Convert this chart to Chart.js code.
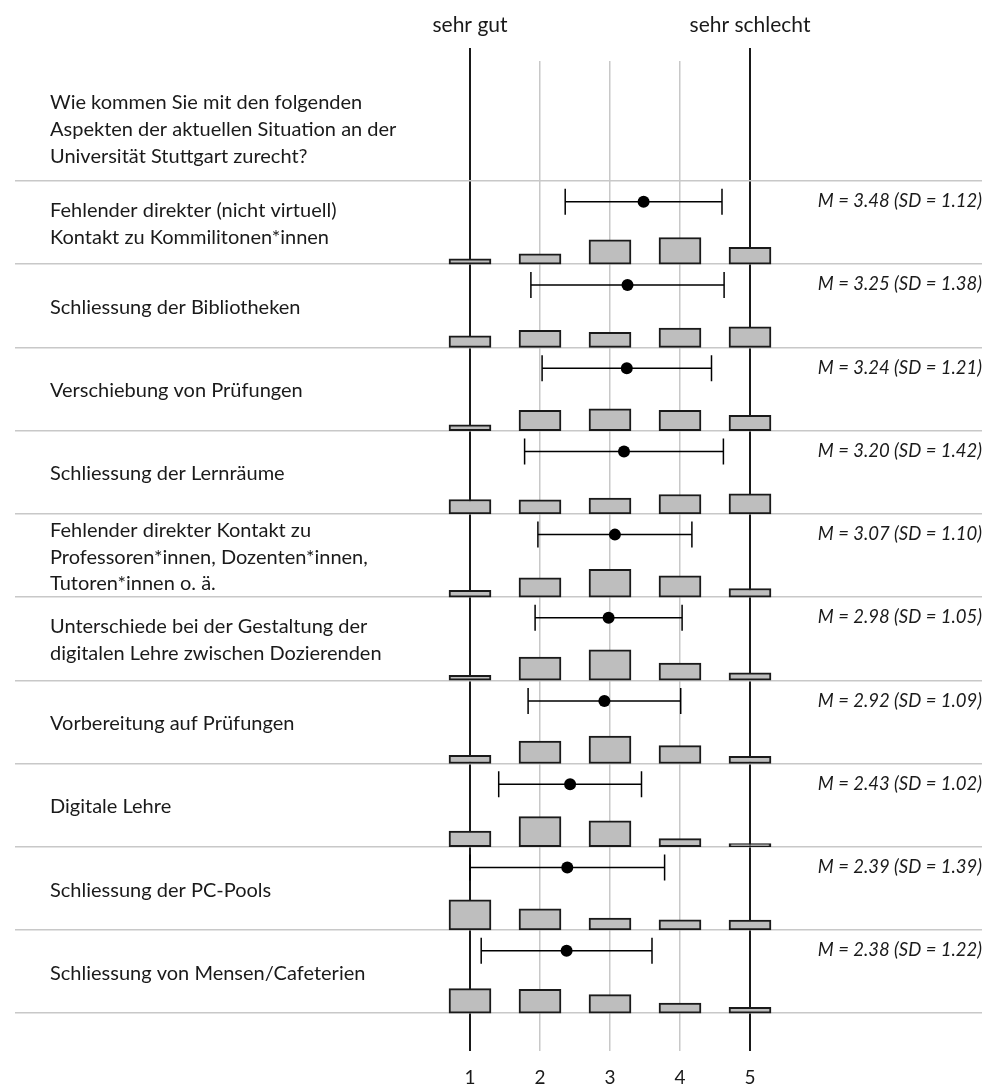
<!DOCTYPE html>
<html>
<head>
<meta charset="utf-8">
<script src="https://cdn.jsdelivr.net/npm/chart.js@4/dist/chart.umd.min.js"></script>
<style>
  html, body { margin: 0; padding: 0; background: #fff; }
  canvas { display: block; }
</style>
</head>
<body>
<canvas id="chart" width="997" height="1085"></canvas>
<script>
// Survey question and item wording
const question = [
  'Wie kommen Sie mit den folgenden',
  'Aspekten der aktuellen Situation an der',
  'Universität Stuttgart zurecht?'
];
const items = [
  ['Fehlender direkter (nicht virtuell)', 'Kontakt zu Kommilitonen*innen'],
  ['Schliessung der Bibliotheken'],
  ['Verschiebung von Prüfungen'],
  ['Schliessung der Lernräume'],
  ['Fehlender direkter Kontakt zu', 'Professoren*innen, Dozenten*innen,', 'Tutoren*innen o. ä.'],
  ['Unterschiede bei der Gestaltung der', 'digitalen Lehre zwischen Dozierenden'],
  ['Vorbereitung auf Prüfungen'],
  ['Digitale Lehre'],
  ['Schliessung der PC-Pools'],
  ['Schliessung von Mensen/Cafeterien']
];

// Response scale
const responseValues = [1, 2, 3, 4, 5];
const scaleEnds = ['sehr gut', 'sehr schlecht'];

// Share of answers (%) per response value, one row per item
const shares = [
  [6.3, 12.2, 29.3, 32.0, 20.2],
  [13.8, 20.4, 18.0, 23.2, 24.6],
  [6.8, 24.4, 26.0, 24.4, 18.4],
  [17.2, 16.8, 18.8, 23.2, 24.0],
  [8.0, 23.0, 33.3, 25.4, 10.3],
  [6.0, 27.8, 36.7, 20.6, 8.9],
  [9.8, 27.1, 33.0, 21.6, 8.5],
  [18.9, 36.3, 31.1, 9.8, 3.9],
  [36.3, 25.3, 14.3, 12.2, 11.9],
  [29.5, 28.7, 22.3, 12.3, 7.2]
];

// Mean and standard deviation per item
const means = [3.48, 3.25, 3.24, 3.20, 3.07, 2.98, 2.92, 2.43, 2.39, 2.38];
const sds   = [1.12, 1.38, 1.21, 1.42, 1.10, 1.05, 1.09, 1.02, 1.39, 1.22];

const FONT = 'Lato, "Open Sans", sans-serif';
const INK = '#1a1a1a';

// Each item occupies one unit on the y axis; bars grow upward from the row's lower edge
const histBars = [];
shares.forEach((row, i) => {
  row.forEach((p, k) => {
    histBars.push({ x: responseValues[k], y: [i + 1 - p / 100, i + 1] });
  });
});

// Mean ± SD whiskers, rows separated by gaps
const whiskers = [];
means.forEach((m, i) => {
  const yv = i + 0.25;
  whiskers.push({ x: m - sds[i], y: yv }, { x: m + sds[i], y: yv }, { x: m, y: null });
});
const meanPoints = means.map((m, i) => ({ x: m, y: i + 0.25 }));

const itemText = {
  id: 'itemText',
  afterDatasetsDraw(chart) {
    const { ctx, chartArea, scales: { y } } = chart;
    const lh = 26.8;
    const x0 = chartArea.left + 35;
    ctx.save();
    ctx.fillStyle = INK;
    ctx.textBaseline = 'middle';
    ctx.textAlign = 'left';
    ctx.font = `20px ${FONT}`;
    const block = (lines, cy) => lines.forEach((t, j) =>
      ctx.fillText(t, x0, cy + (j - (lines.length - 1) / 2) * lh));
    block(question, y.getPixelForValue(-0.62));
    items.forEach((lines, i) => block(lines, y.getPixelForValue(i + 0.52)));
    ctx.textAlign = 'right';
    ctx.font = `italic 18.5px ${FONT}`;
    means.forEach((m, i) => ctx.fillText(
      `M = ${m.toFixed(2)} (SD = ${sds[i].toFixed(2)})`,
      chartArea.right, y.getPixelForValue(i + 0.245)));
    ctx.restore();
  }
};

const xRange = { min: -5.5, max: 8.3143 };

function draw() {
  new Chart(document.getElementById('chart'), {
    type: 'bar',
    data: {
      datasets: [
        {
          type: 'line',
          data: meanPoints,
          showLine: false,
          pointRadius: 6,
          pointBackgroundColor: '#000',
          pointBorderWidth: 0,
          order: 1
        },
        {
          type: 'line',
          data: whiskers,
          borderColor: '#000',
          borderWidth: 1.5,
          spanGaps: false,
          tension: 0,
          pointStyle: 'line',
          pointRotation: 90,
          pointRadius: 13,
          pointBorderWidth: 1.5,
          pointBorderColor: '#000',
          order: 2
        },
        {
          type: 'bar',
          data: histBars,
          backgroundColor: '#bebebe',
          borderColor: INK,
          borderWidth: 2,
          borderSkipped: false,
          barThickness: 42,
          order: 3
        }
      ]
    },
    options: {
      responsive: false,
      animation: false,
      devicePixelRatio: 1,
      layout: { padding: { left: 15, right: 15, top: 2, bottom: -19 } },
      plugins: { legend: { display: false }, tooltip: { enabled: false } },
      scales: {
        x: {
          type: 'linear',
          position: 'bottom',
          ...xRange,
          offset: false,
          afterBuildTicks: s => { s.ticks = responseValues.map(v => ({ value: v })); },
          grid: {
            offset: false,
            drawTicks: false,
            color: c => (c.tick && (c.tick.value === 1 || c.tick.value === 5)) ? INK : '#c8c8c8',
            lineWidth: c => (c.tick && (c.tick.value === 1 || c.tick.value === 5)) ? 2 : 1.5
          },
          border: { display: false },
          ticks: { padding: 15, color: INK, font: { family: FONT, size: 19 } }
        },
        x2: {
          type: 'linear',
          position: 'top',
          ...xRange,
          offset: false,
          afterBuildTicks: s => { s.ticks = [1, 5].map(v => ({ value: v })); },
          grid: {
            offset: false,
            drawOnChartArea: false,
            drawTicks: true,
            tickLength: 13,
            color: INK,
            lineWidth: 2
          },
          border: { display: false },
          ticks: {
            padding: 10.4,
            color: INK,
            font: { family: FONT, size: 21 },
            callback: v => (v === 1 ? scaleEnds[0] : scaleEnds[1])
          }
        },
        y: {
          type: 'linear',
          reverse: true,
          min: -1.44,
          max: 10.456,
          afterBuildTicks: s => { s.ticks = items.map((_, i) => ({ value: i })).concat([{ value: items.length }]); },
          grid: { color: '#c8c8c8', lineWidth: 1.5, drawTicks: false },
          border: { display: false },
          ticks: { display: false }
        }
      }
    },
    plugins: [itemText]
  });
}

if (document.fonts && document.fonts.load) {
  Promise.all([
    document.fonts.load(`20px ${FONT}`),
    document.fonts.load(`italic 18.5px ${FONT}`)
  ]).then(draw, draw);
} else {
  draw();
}
</script>
</body>
</html>
